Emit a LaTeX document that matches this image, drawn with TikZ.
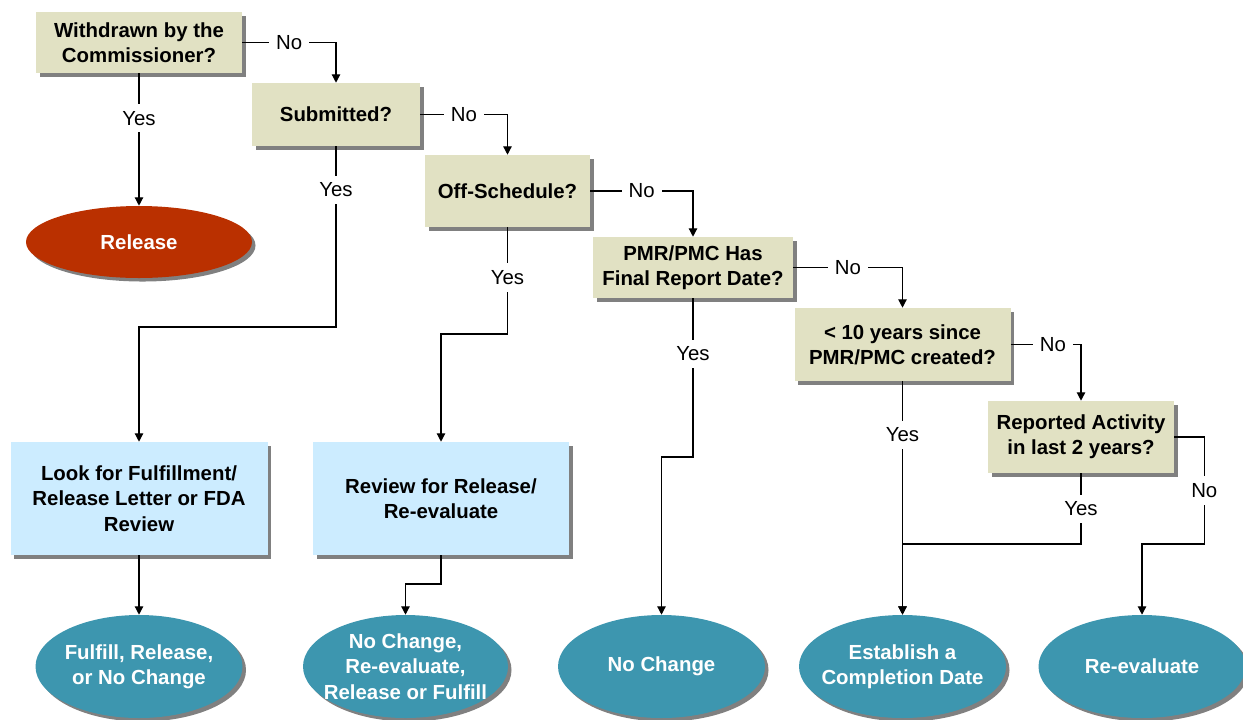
\documentclass[tikz,border=0pt]{standalone}
\usepackage{fontspec}
\setmainfont{Liberation Sans}
\usetikzlibrary{arrows.meta,shapes.geometric,shadows}
\definecolor{boxtan}{RGB}{225,225,195}
\definecolor{boxblue}{RGB}{204,236,255}
\definecolor{endteal}{RGB}{61,150,175}
\definecolor{endrust}{RGB}{186,48,0}
\definecolor{shadowgray}{RGB}{128,128,128}
\newcommand\flowsize{\fontsize{14.5}{18}\selectfont}

\begin{document}
\begin{tikzpicture}[x=0.025cm, y=-0.025cm,
  wh/.style 2 args={minimum width=#1*0.025cm, minimum height=#2*0.025cm},
  shade/.style={general shadow={fill=shadowgray, shadow xshift=2.5pt, shadow yshift=-2.5pt}},
  question/.style={rectangle, fill=boxtan, shade, inner sep=0pt, align=center, font=\flowsize\bfseries},
  task/.style={rectangle, fill=boxblue, shade, inner sep=0pt, align=center, font=\flowsize\bfseries},
  outcome/.style={ellipse, fill=endteal, shade, inner xsep=-8pt, inner ysep=-4pt, align=center, text=white, font=\flowsize\bfseries},
  lbl/.style={fill=white, inner xsep=5pt, inner ysep=5pt, font=\flowsize},
  arr/.style={-{Triangle[length=6pt,width=6pt]}, line width=0.9pt}]
  \useasboundingbox (0,0) rectangle (1243,719);
  % Nodes
  \node[question, wh={206}{61}] (withdrawn) at (139,42.5) {Withdrawn by the\\Commissioner?};
  \node[question, wh={168}{63}] (submitted) at (336,114.5) {Submitted?};
  \node[question, wh={165}{72}] (offsched) at (507.5,191) {Off-Schedule?};
  \node[question, wh={200}{61}] (finaldate) at (693,267.5) {PMR/PMC Has\\Final Report Date?};
  \node[question, wh={216}{73}] (tenyears) at (902.5,344.5) {< 10 years since\\PMR/PMC created?};
  \node[question, wh={186}{72}] (activity) at (1081,437) {Reported Activity\\in last 2 years?};
  \node[outcome, fill=endrust, wh={226}{72}] (release) at (139,242) {Release};
  \node[task, wh={257}{113}] (lookfor) at (139,498.5) {Look for Fulfillment/\\Release Letter or FDA\\Review};
  \node[task, wh={256}{113}] (review) at (441,498.5) {Review for Release/\\Re-evaluate};
  \node[outcome, wh={207}{103}] (fulfill) at (139,666.5) {Fulfill, Release,\\or No Change};
  \node[outcome, wh={205}{103}] (mixed) at (405.5,666.5) {No Change,\\Re-evaluate,\\Release or Fulfill};
  \node[outcome, wh={207}{103}] (nochange) at (661.5,666.5) {No Change};
  \node[outcome, wh={207}{103}] (establish) at (902.5,666.5) {Establish a\\Completion Date};
  \node[outcome, wh={207}{103}] (reeval) at (1142,666.5) {Re-evaluate};
  % Connections
  \draw[arr] (withdrawn.east) -| node[lbl, pos=.25]{No} (submitted.north);
  \draw[arr] (withdrawn) -- node[lbl, pos=.34]{Yes} (release);
  \draw[arr] (submitted.east) -| node[lbl, pos=.25]{No} (offsched.north);
  \draw[arr] (submitted) -- node[lbl, pos=.24]{Yes} (submitted |- 0,327) -| (lookfor);
  \draw[arr] (offsched.east) -| node[lbl, pos=.25]{No} (finaldate.north);
  \draw[arr] (offsched) -- node[lbl, pos=.47]{Yes} (offsched |- 0,334) -| (review);
  \draw[arr] (finaldate.east) -| node[lbl, pos=.25]{No} (tenyears.north);
  \draw[arr] (finaldate) -- node[lbl, pos=.35]{Yes} (finaldate |- 0,457) -| (nochange);
  \draw[arr] (tenyears.east) -| node[lbl, pos=.3]{No} (activity.north);
  \draw[arr] (tenyears) -- node[lbl, pos=.23]{Yes} (establish);
  \draw[arr] (activity) -- node[lbl]{Yes} (activity |- 0,544) -| (establish);
  \draw[arr] (activity.east) -- ++(30,0) -- node[lbl]{No} ++(0,107) -| (reeval);
  \draw[arr] (lookfor) -- (fulfill);
  \draw[arr] (review) -- (review |- 0,584) -| (mixed);
\end{tikzpicture}
\end{document}
